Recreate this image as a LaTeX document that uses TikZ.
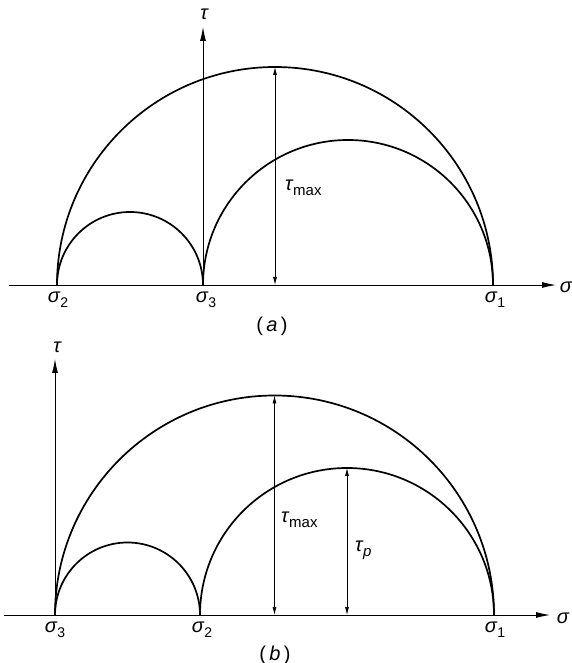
\documentclass[tikz,border=0pt]{standalone}
\usepackage{fontspec}
\setmainfont{Liberation Sans}
\usetikzlibrary{arrows.meta}

\newcommand{\sg}[1]{{\itshape σ}\kern0.5pt\raisebox{-0.45ex}{\fontsize{14}{16}\selectfont #1}}
\newcommand{\ta}[1]{{\itshape τ}\kern0.5pt\raisebox{-0.45ex}{\fontsize{15}{17}\selectfont #1}}

\begin{document}
\begin{tikzpicture}[x=1pt, y=1pt,
    mohr/.style={line width=1.7pt},
    axis/.style={line width=0.9pt, -{Latex[length=14pt,width=6pt]}},
    dim/.style={line width=0.7pt, {Latex[length=8pt,width=4pt]}-{Latex[length=8pt,width=4pt]}},
    lbl/.style={font=\fontsize{20}{23}\selectfont, inner sep=0pt}
]
\useasboundingbox (0,0) rectangle (572,663);

% (a) : sigma_2 < sigma_3 < sigma_1
\foreach \x/\name in {57/s2a, 203/s3a, 493/s1a}
    \coordinate (\name) at (\x, 378);
\coordinate (oa) at (9, 378);
\coordinate (ea) at (556, 378);
\coordinate (ya) at (203, 636);
\coordinate (ca) at (275, 378);
\coordinate (ma) at (275, 596);

\draw[axis] (oa) -- (ea);
\draw[axis] (s3a) -- (ya);
\draw[mohr] (s1a) arc[start angle=0, end angle=180, radius=218];
\draw[mohr] (s3a) arc[start angle=0, end angle=180, radius=73];
\draw[mohr] (s1a) arc[start angle=0, end angle=180, radius=145];
\draw[dim] (ma) -- (ca);

\node[lbl] (l2a) at (58, 363) {\sg{2}};
\node[lbl] (l3a) at (206, 363) {\sg{3}};
\node[lbl] (l1a) at (495, 363) {\sg{1}};
\node[lbl] (xa) at (566, 376) {{\itshape σ}};
\node[lbl] (ta) at (204, 649) {{\itshape τ}};
\node[lbl, anchor=west] (tma) at (285, 475) {\ta{max}};
\node[lbl] (cap a) at (272, 337) {(\,\textit{a}\,)};

% (b) : sigma_3 < sigma_2 < sigma_1
\foreach \x/\name in {55/s3b, 200/s2b, 494/s1b}
    \coordinate (\name) at (\x, 48);
\coordinate (ob) at (4, 48);
\coordinate (eb) at (550, 48);
\coordinate (yb) at (55, 304);
\coordinate (cb) at (274.5, 48);
\coordinate (mb) at (274.5, 267.5);
\coordinate (cp) at (347, 48);
\coordinate (mp) at (347, 195);

\draw[axis] (ob) -- (eb);
\draw[axis] (s3b) -- (yb);
\draw[mohr] (s1b) arc[start angle=0, end angle=180, radius=219.5];
\draw[mohr] (s2b) arc[start angle=0, end angle=180, radius=72.5];
\draw[mohr] (s1b) arc[start angle=0, end angle=180, radius=147];
\draw[dim] (mb) -- (cb);
\draw[dim] (mp) -- (cp);

\node[lbl] (l3b) at (55, 33) {\sg{3}};
\node[lbl] (l2b) at (202, 33) {\sg{2}};
\node[lbl] (l1b) at (495, 33) {\sg{1}};
\node[lbl] (xb) at (563, 45) {{\itshape σ}};
\node[lbl] (tb) at (57, 316) {{\itshape τ}};
\node[lbl, anchor=west] (tmb) at (281, 143) {\ta{max}};
\node[lbl, anchor=west] (tpb) at (355, 113) {\ta{\itshape p}};
\node[lbl] (cap b) at (275, 8) {(\,\textit{b}\,)};
\end{tikzpicture}
\end{document}
